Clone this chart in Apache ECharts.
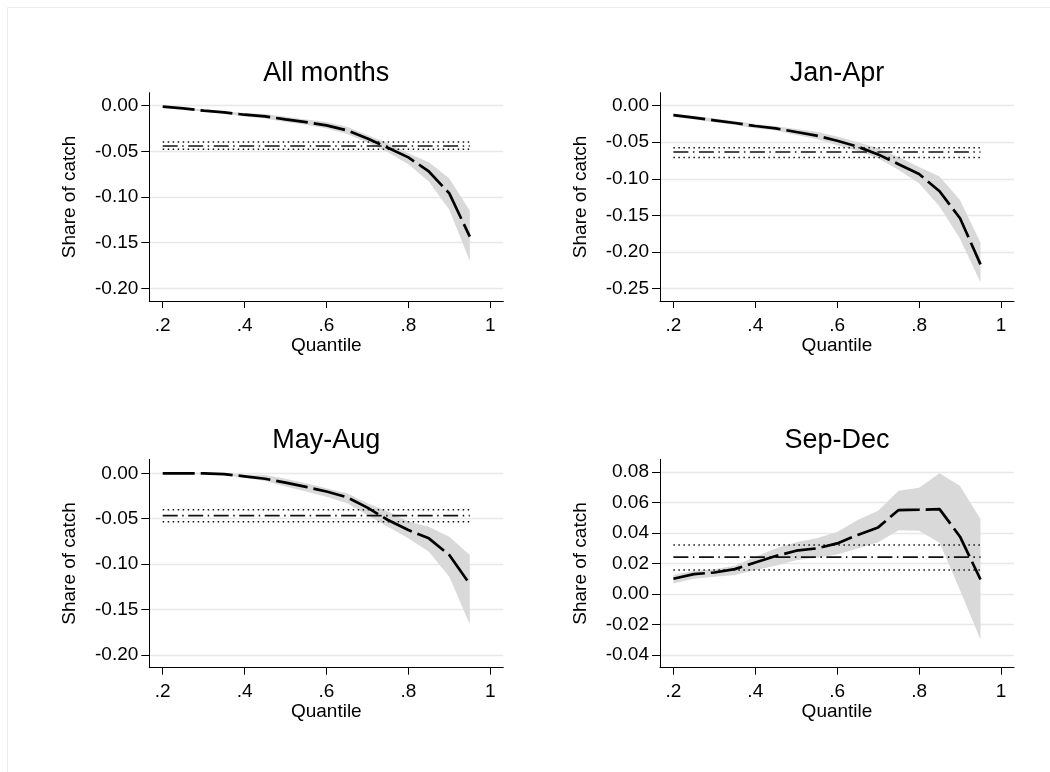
<!DOCTYPE html>
<html>
<head>
<meta charset="utf-8">
<title>Share of catch by quantile</title>
<script src="https://cdn.jsdelivr.net/npm/echarts@6/dist/echarts.min.js"></script>
<style>
    html, body { margin: 0; padding: 0; background: #fff; }
    #chart { width: 1050px; height: 772px; }
</style>
</head>
<body>
<div id="chart"></div>
<script type="text/javascript">
    // quantiles on the x axis
    var quantiles = [0.2, 0.25, 0.3, 0.35, 0.4, 0.45, 0.5, 0.55, 0.6, 0.65, 0.7, 0.75, 0.8, 0.85, 0.9, 0.95];
    var xTicks = [0.2, 0.4, 0.6, 0.8, 1];

    // All months
    var estAll = [-0.001, -0.003, -0.0055, -0.0073, -0.0099, -0.0117, -0.015, -0.018, -0.0215, -0.027, -0.036, -0.046, -0.0566, -0.072, -0.096, -0.1434];
    var hiAll = [-0.0005, -0.002, -0.0045, -0.006, -0.008, -0.0092, -0.012, -0.015, -0.018, -0.023, -0.032, -0.041, -0.052, -0.062, -0.0796, -0.115];
    var loAll = [-0.0015, -0.004, -0.0065, -0.0086, -0.0118, -0.014, -0.018, -0.021, -0.025, -0.031, -0.040, -0.051, -0.064, -0.083, -0.114, -0.170];
    var refAll = [-0.0442, -0.0398, -0.0478];   // mean, upper, lower
    var yTicksAll = [-0.2, -0.15, -0.1, -0.05, 0];

    // Jan-Apr
    var estJA = [-0.0128, -0.0164, -0.020, -0.0237, -0.0278, -0.031, -0.036, -0.041, -0.048, -0.056, -0.0666, -0.080, -0.0935, -0.117, -0.154, -0.217];
    var hiJA = [-0.0105, -0.014, -0.0175, -0.021, -0.025, -0.028, -0.032, -0.0356, -0.042, -0.050, -0.058, -0.070, -0.084, -0.097, -0.129, -0.1875];
    var loJA = [-0.015, -0.019, -0.0225, -0.0265, -0.031, -0.034, -0.040, -0.0456, -0.054, -0.062, -0.072, -0.088, -0.106, -0.138, -0.182, -0.242];
    var refJA = [-0.0634, -0.0575, -0.0707];
    var yTicksJA = [-0.25, -0.2, -0.15, -0.1, -0.05, 0];

    // May-Aug
    var estMA = [0, 0, 0, -0.001, -0.0033, -0.006, -0.0103, -0.015, -0.020, -0.0264, -0.0378, -0.0514, -0.0624, -0.0716, -0.090, -0.122];
    var hiMA = [0, 0, 0.0005, 0, -0.0015, -0.002, -0.006, -0.011, -0.0165, -0.022, -0.033, -0.042, -0.053, -0.0587, -0.0697, -0.090];
    var loMA = [0, 0, -0.0005, -0.002, -0.005, -0.0085, -0.0145, -0.020, -0.0257, -0.033, -0.046, -0.0587, -0.0716, -0.0862, -0.1138, -0.166];
    var refMA = [-0.0466, -0.040, -0.0532];
    var yTicksMA = [-0.2, -0.15, -0.1, -0.05, 0];

    // Sep-Dec
    var estSD = [0.0101, 0.0131, 0.0142, 0.0164, 0.0208, 0.025, 0.0285, 0.030, 0.0333, 0.0388, 0.0438, 0.0552, 0.0554, 0.0558, 0.0377, 0.0096];
    var hiSD = [0.0125, 0.0153, 0.0164, 0.0186, 0.0245, 0.030, 0.034, 0.0366, 0.0407, 0.0486, 0.0547, 0.0679, 0.0698, 0.0793, 0.071, 0.0493];
    var loSD = [0.007, 0.0101, 0.0114, 0.0125, 0.0158, 0.0186, 0.0223, 0.0239, 0.026, 0.030, 0.034, 0.042, 0.0416, 0.0337, 0.0026, -0.0298];
    var refSD = [0.0243, 0.0322, 0.0158];
    var yTicksSD = [-0.04, -0.02, 0, 0.02, 0.04, 0.06, 0.08];

    var FONT = 'Liberation Sans, Arial, sans-serif';

    var panels = [
        {title: 'All months', est: estAll, hi: hiAll, lo: loAll, ref: refAll, ticks: yTicksAll, min: -0.2139, max: 0.0142, left: 149.3, top: 92.7},
        {title: 'Jan-Apr', est: estJA, hi: hiJA, lo: loJA, ref: refJA, ticks: yTicksJA, min: -0.2673, max: 0.0178, left: 660, top: 92.7},
        {title: 'May-Aug', est: estMA, hi: hiMA, lo: loMA, ref: refMA, ticks: yTicksMA, min: -0.2139, max: 0.0154, left: 149.3, top: 459.3},
        {title: 'Sep-Dec', est: estSD, hi: hiSD, lo: loSD, ref: refSD, ticks: yTicksSD, min: -0.0483, max: 0.0885, left: 660, top: 459.3}
    ];
    var plotW = 354, plotH = 208.4;

    var grids = [], xAxes = [], yAxes = [], series = [], graphics = [];

    // faint outer frame
    graphics.push({
        type: 'rect', silent: true,
        shape: {x: 7.5, y: 7.5, width: 1200, height: 900},
        style: {fill: 'none', stroke: '#ececec', lineWidth: 1}
    });

    // band polygon: upper bound left->right, lower bound right->left
    function bandRenderer(rows) {
        return function (params, api) {
            if (params.dataIndex !== 0) return;
            var pts = [];
            rows.forEach(function (r) { pts.push(api.coord([r[0], r[2]])); });
            for (var k = rows.length - 1; k >= 0; k--) pts.push(api.coord([rows[k][0], rows[k][1]]));
            return {type: 'polygon', shape: {points: pts}, style: {fill: '#d9d9d9'}, silent: true};
        };
    }

    panels.forEach(function (p, i) {
        grids.push({left: p.left, top: p.top, width: plotW, height: plotH, containLabel: false});

        graphics.push({
            type: 'text', silent: true,
            x: p.left + plotW / 2, y: p.top - 19,
            style: {text: p.title, font: '27px ' + FONT, fill: '#000', align: 'center', verticalAlign: 'middle'}
        });

        xAxes.push({
            gridIndex: i, type: 'value', min: 0.1673, max: 1.0318,
            name: 'Quantile', nameLocation: 'middle', nameGap: 32,
            nameTextStyle: {fontSize: 19, fontFamily: FONT, color: '#000'},
            axisLine: {show: true, onZero: false, lineStyle: {color: '#000', width: 1}},
            axisTick: {show: true, customValues: xTicks, length: 7, lineStyle: {color: '#000'}},
            axisLabel: {
                customValues: xTicks, margin: 15, fontSize: 19, fontFamily: FONT, color: '#000',
                formatter: function (v) { return v === 1 ? '1' : String(v).replace('0.', '.'); }
            },
            splitLine: {show: false}
        });

        yAxes.push({
            gridIndex: i, type: 'value', min: p.min, max: p.max,
            name: 'Share of catch', nameLocation: 'middle', nameGap: 70, nameRotate: 90,
            nameTextStyle: {fontSize: 19, fontFamily: FONT, color: '#000'},
            axisLine: {show: true, onZero: false, lineStyle: {color: '#000', width: 1}},
            axisTick: {show: true, customValues: p.ticks, length: 8, lineStyle: {color: '#000'}},
            axisLabel: {
                customValues: p.ticks, margin: 11, fontSize: 19, fontFamily: FONT, color: '#000',
                formatter: function (v) { return v.toFixed(2); }
            },
            splitLine: {show: true, lineStyle: {color: '#e8e8e8', width: 1.3}}
        });

        // confidence band
        var rows = quantiles.map(function (q, k) { return [q, p.lo[k], p.hi[k]]; });
        series.push({
            type: 'custom', xAxisIndex: i, yAxisIndex: i, silent: true, z: 1,
            renderItem: bandRenderer(rows),
            encode: {x: 0, y: [1, 2]},
            data: rows
        });

        // reference lines: mean (dash-dot) and bounds (dotted)
        p.ref.forEach(function (v, j) {
            series.push({
                type: 'line', xAxisIndex: i, yAxisIndex: i, symbol: 'none', silent: true, z: 2,
                lineStyle: j === 0
                    ? {color: '#111', width: 1.6, type: [15, 4.5, 1.5, 4.5]}
                    : {color: '#111', width: 1.5, type: [1.5, 3.5]},
                data: [[quantiles[0], v], [quantiles[quantiles.length - 1], v]]
            });
        });

        // point estimates
        series.push({
            type: 'line', xAxisIndex: i, yAxisIndex: i, symbol: 'none', silent: true, z: 3,
            lineStyle: {color: '#000', width: 2.7, type: [32, 6]},
            data: quantiles.map(function (q, k) { return [q, p.est[k]]; })
        });
    });

    var myChart = echarts.init(document.getElementById('chart'));
    myChart.setOption({
        animation: false,
        backgroundColor: '#fff',
        grid: grids,
        xAxis: xAxes,
        yAxis: yAxes,
        series: series,
        graphic: graphics
    });
</script>
</body>
</html>
